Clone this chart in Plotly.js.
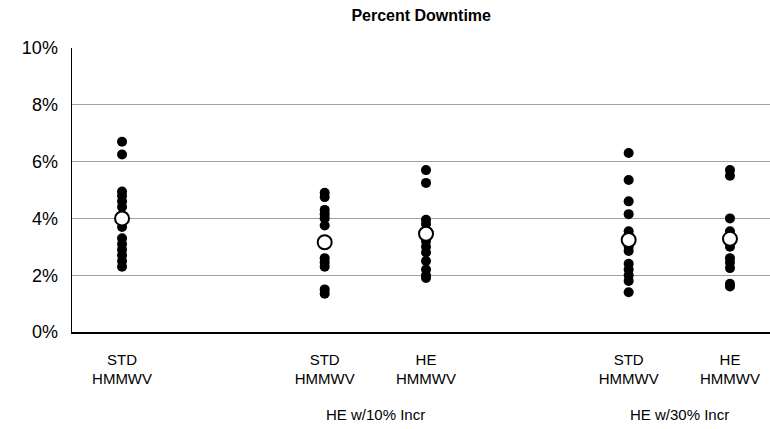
<!DOCTYPE html>
<html>
<head>
<meta charset="utf-8">
<script src="https://cdn.plot.ly/plotly-3.0.1.min.js"></script>
<style>html,body{margin:0;padding:0;background:#fff;}#chart{width:770px;height:429px;}</style>
</head>
<body>
<div id="chart"></div>
<script>
// ---- data (percent downtime) ----
const categories = ['STD<br>HMMWV', 'STD<br>HMMWV', 'HE<br>HMMWV', 'STD<br>HMMWV', 'HE<br>HMMWV'];
const groupLabels = ['', 'HE w/10% Incr', 'HE w/30% Incr'];
const std0 = [6.7, 6.25, 4.95, 4.8, 4.6, 4.4, 3.7, 3.3, 3.1, 2.9, 2.7, 2.5, 2.3];
const std10 = [4.9, 4.75, 4.3, 4.15, 4.0, 3.75, 2.6, 2.45, 2.3, 1.5, 1.35];
const he10 = [5.7, 5.25, 3.95, 3.8, 3.2, 3.0, 2.8, 2.5, 2.2, 2.0, 1.9];
const std30 = [6.3, 5.35, 4.6, 4.15, 3.55, 3.4, 3.0, 2.85, 2.4, 2.2, 2.0, 1.8, 1.4];
const he30 = [5.7, 5.5, 4.0, 3.55, 3.0, 2.6, 2.45, 2.25, 1.7, 1.6];
const means = [4.0, 3.16, 3.46, 3.24, 3.28];
const yTickVals = [0, 2, 4, 6, 8, 10];
const yTickText = ['0%', '2%', '4%', '6%', '8%', '10%'];

// ---- layout helpers ----
const catPos = [0, 2, 3, 5, 6];
const groupPos = [0, 2.5, 5.5];
const series = [std0, std10, he10, std30, he30];

const traces = [];
series.forEach((vals, i) => {
  traces.push({
    type: 'scatter', mode: 'markers',
    x: vals.map(() => catPos[i]), y: vals,
    marker: {color: '#000', size: 10, line: {width: 0}},
    hoverinfo: 'y', showlegend: false
  });
});
traces.push({
  type: 'scatter', mode: 'markers',
  x: catPos, y: means,
  marker: {color: '#fff', size: 14, line: {color: '#000', width: 2}},
  showlegend: false
});

const annotations = groupLabels.map((t, i) => ({
  text: t, x: groupPos[i], xref: 'x', y: -0.29, yref: 'paper',
  showarrow: false, yanchor: 'middle', xanchor: 'center',
  font: {family: 'Liberation Sans, Arial, sans-serif', size: 15, color: '#000'}
})).filter(a => a.text);

const layout = {
  width: 770, height: 429,
  margin: {l: 72, r: 0, t: 48, b: 97, pad: 0},
  paper_bgcolor: '#fff', plot_bgcolor: '#fff',
  font: {family: 'Liberation Sans, Arial, sans-serif', size: 15, color: '#000'},
  title: {text: '<b>Percent Downtime</b>', x: 0.547, xanchor: 'center', y: 0.963, yanchor: 'middle',
          font: {size: 16, color: '#000', family: 'Liberation Sans, Arial, sans-serif'}},
  xaxis: {
    range: [-0.494, 6.395], tickmode: 'array', tickvals: catPos, ticktext: categories,
    showgrid: false, zeroline: false, showline: true, linecolor: '#000', linewidth: 1.5,
    ticks: '', tickfont: {size: 15}, ticklabelstandoff: 13
  },
  yaxis: {
    range: [0, 10], tickmode: 'array', tickvals: yTickVals, ticktext: yTickText,
    showgrid: true, gridcolor: '#a0a0a0', gridwidth: 1, zeroline: false,
    showline: true, linecolor: '#000', linewidth: 1.5, ticks: '', tickfont: {size: 18},
    ticklabelstandoff: 9
  },
  annotations: annotations
};

Plotly.newPlot('chart', traces, layout, {displayModeBar: false, staticPlot: true});
</script>
</body>
</html>
